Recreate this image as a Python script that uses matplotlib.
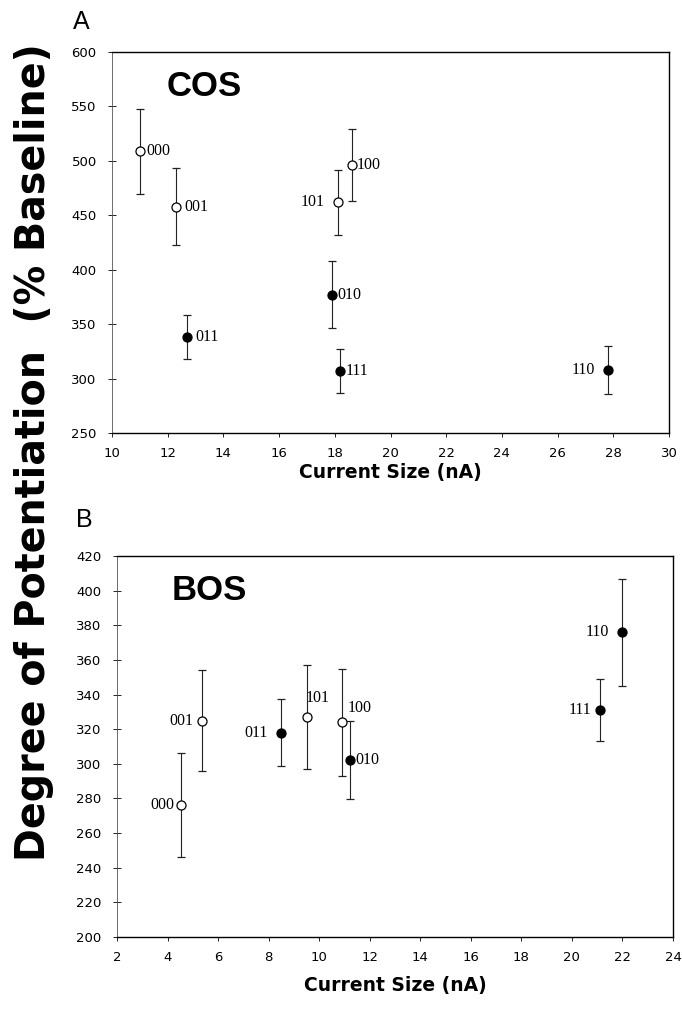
import matplotlib
matplotlib.use('Agg')
import matplotlib.pyplot as plt

# panel A (COS)
cos_labels = ['000', '001', '011', '101', '100', '010', '111', '110']
cos_x      = [11.0, 12.3, 12.7, 18.1, 18.6, 17.9, 18.2, 27.8]
cos_y      = [509, 458, 338, 462, 496, 377, 307, 308]
cos_err    = [39, 35, 20, 30, 33, 31, 20, 22]
cos_filled = [False, False, True, False, False, True, True, True]

# panel B (BOS)
bos_labels = ['000', '001', '011', '101', '100', '010', '110', '111']
bos_x      = [4.55, 5.35, 8.5, 9.5, 10.9, 11.2, 22.0, 21.1]
bos_y      = [276, 325, 318, 327, 324, 302, 376, 331]
bos_err    = [30, 29, 19.5, 30, 31, 22.5, 31, 18]
bos_filled = [False, False, True, False, False, True, True, True]

# label placement (offset in points, horizontal alignment)
cos_offsets = [(5, 0, 'left'), (6, 0, 'left'), (6, 0, 'left'), (-9, 0, 'right'),
               (4, 0, 'left'), (3.5, 0, 'left'), (4, 0, 'left'), (-9, 0, 'right')]
bos_offsets = [(-5, 0, 'right'), (-6, 0, 'right'), (-10, 0, 'right'), (-1, 14, 'left'),
               (4, 10, 'left'), (4, 0, 'left'), (-10, 0, 'right'), (-6, 0, 'right')]

W, H = 682, 1009
fig = plt.figure(figsize=(W / 100, H / 100), dpi=100)

sans = 'DejaVu Sans'
serif = 'Liberation Serif'


def panel(rect, xs, ys, errs, filled, labels, offsets, xlim, ylim, xticks, yticks,
          name, xlabpad):
    ax = fig.add_axes(rect)
    for x, y, e, f, lab, (dx, dy, ha) in zip(xs, ys, errs, filled, labels, offsets):
        ax.errorbar(x, y, yerr=e, fmt='o', ms=6.5, mfc='black' if f else 'white',
                    mec='black', mew=0.9, ecolor='#222222', elinewidth=0.8,
                    capsize=3, capthick=0.8, zorder=3)
        ax.annotate(lab, (x, y), xytext=(dx, dy), textcoords='offset points',
                    ha=ha, va='center', fontsize=11.5, family=serif)
    ax.set_xlim(*xlim)
    ax.set_ylim(*ylim)
    ax.set_xticks(xticks)
    ax.set_yticks(yticks)
    ax.tick_params(axis='x', direction='out', length=3, width=0.6, pad=7, labelsize=9.5)
    ax.tick_params(axis='y', direction='inout', length=6, width=0.6, pad=8, labelsize=9.5)
    for lab in ax.get_xticklabels() + ax.get_yticklabels():
        lab.set_family(sans)
    for s in ax.spines.values():
        s.set_linewidth(1.0)
    ax.spines['left'].set_linewidth(0.6)
    ax.spines['left'].set_color('#555555')
    ax.text(0.098, 0.91, name, transform=ax.transAxes, fontsize=25,
            fontweight='bold', family='Liberation Sans', va='center')
    ax.set_xlabel('Current Size (nA)', fontsize=13.5, fontweight='bold',
                  family=sans, labelpad=xlabpad)
    return ax


panel([112 / W, 1 - 433 / H, 557 / W, 381 / H], cos_x, cos_y, cos_err, cos_filled,
      cos_labels, cos_offsets, (10, 30), (250, 600), range(10, 31, 2),
      range(250, 601, 50), 'COS', 2)
panel([117 / W, 1 - 937 / H, 556 / W, 381 / H], bos_x, bos_y, bos_err, bos_filled,
      bos_labels, bos_offsets, (2, 24), (200, 420), range(2, 25, 2),
      range(200, 421, 20), 'BOS', 9)

fig.text(81 / W, 1 - 22 / H, 'A', fontsize=18, family='Liberation Sans',
         ha='center', va='center')
fig.text(84 / W, 1 - 520 / H, 'B', fontsize=18, family='Liberation Sans',
         ha='center', va='center')
fig.text(34 / W, 1 - 452 / H, 'Degree of Potentiation  (% Baseline)', rotation=90,
         fontsize=28.5, fontweight='bold', family=sans, ha='center', va='center')

fig.savefig('out.png', dpi=100)
